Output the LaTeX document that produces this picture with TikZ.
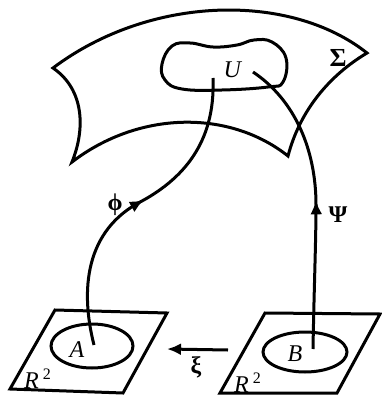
\documentclass[tikz,border=0pt]{standalone}
\usepackage{fontspec}
\setmainfont{Liberation Serif}
\usetikzlibrary{arrows.meta,decorations.markings}
\tikzset{
  tip/.style={-{Latex[length=7pt,width=6pt]}},
  mid arrow/.style={postaction={decorate},
    decoration={markings,mark=at position #1 with {\arrow{Latex[length=7pt,width=6pt]}}}},
  lbl/.style={inner sep=1pt, font=\fontsize{12}{14}\selectfont},
}
\begin{document}
\begin{tikzpicture}[x=0.5pt, y=-0.5pt, line width=1.5pt]
\useasboundingbox (0,0) rectangle (381,395);
% the surface Sigma
\draw (53,68) .. controls (150,-5) and (290,-8) .. (367,53)
  .. controls (330,75) and (300,110) .. (288,156)
  .. controls (230,110) and (140,110) .. (72,162)
  .. controls (85,130) and (85,90) .. cycle;
\node [lbl, font=\fontsize{13}{15}\selectfont] (Sigma) at (338,58) {\textbf{Σ}};
% the open set U
\draw plot [smooth cycle, tension=0.7] coordinates {(162,64) (172,46) (190,43) (213,47) (237,45) (254,40) (272,42) (286,58) (283,82) (268,87) (222,90) (182,89) (165,80)};
\node [lbl] (U) at (233,70) {\textit{U}};
\coordinate (uA) at (213,78);
\coordinate (uB) at (253,72);
% the two planes
\draw (55,310) -- (167,313) -- (123,393) -- (10,389) -- cycle;
\draw (265,313) -- (380,314) -- (337,393) -- (220,393) -- cycle;
\draw (92,346) ellipse [x radius=41, y radius=22];
\draw (305,352) ellipse [x radius=42, y radius=20];
\node [lbl] (A) at (77,350) {\textit{A}};
\node [lbl] (B) at (295,354) {\textit{B}};
\node [lbl] (RA) at (38,379) {\textit{R}\,\textsuperscript{2}};
\node [lbl] (RB) at (248,383) {\textit{R}\,\textsuperscript{2}};
\coordinate (a) at (94,345);
\coordinate (b) at (313,349);
% the maps
\draw [mid arrow=0.53] (a) .. controls (80,290) and (85,230) .. (142,201)
  .. controls (195,172) and (215,130) .. (uA);
\node [lbl] (phi) at (115,205) {\textbf{ϕ}};
\draw [mid arrow=0.5] (b) .. controls (314,290) and (316,240) .. (316,205)
  .. controls (316,150) and (295,100) .. (uB);
\node [lbl] (Psi) at (338,215) {\textbf{Ψ}};
\coordinate (xs) at (228,350);
\coordinate (xe) at (167,349);
\draw [tip] (xs) -- (xe);
\node [lbl] (xi) at (196,367) {\textbf{ξ}};
\end{tikzpicture}
\end{document}
